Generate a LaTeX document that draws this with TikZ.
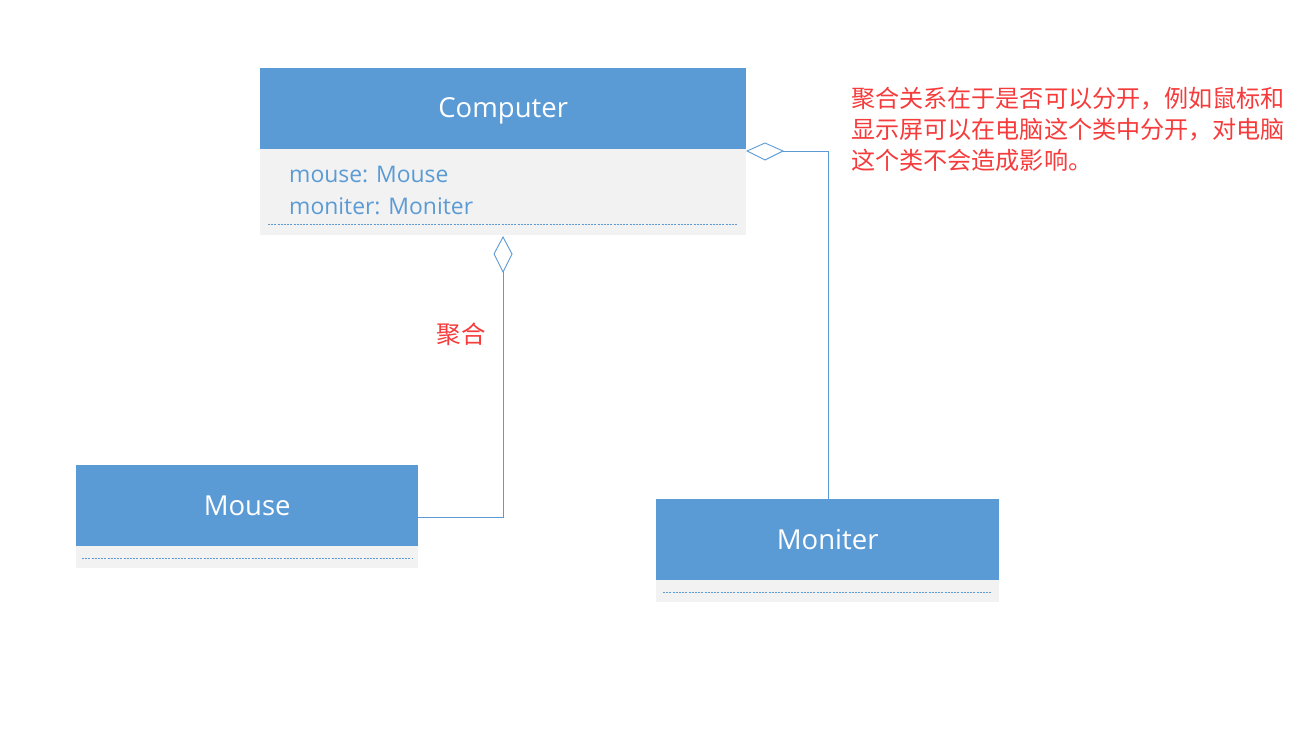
\documentclass[tikz,border=0pt]{standalone}
\usepackage{fontspec}
\setmainfont{Open Sans}
\newfontfamily\cjk{Noto Sans CJK SC}
\definecolor{hdr}{HTML}{5B9BD5}
\definecolor{bodyfill}{HTML}{F2F2F2}
\definecolor{note}{HTML}{F53B3B}
\tikzset{
  hdrbox/.style={fill=hdr, draw=none, minimum height=81pt, inner sep=0pt, text=white, font=\fontsize{27.5}{32}\selectfont},
  hdrtext/.style={text=white, font=\fontsize{27.5}{32}\selectfont, inner sep=0pt},
  bodybox/.style={fill=bodyfill, draw=none, inner sep=0pt},
  dashline/.style={draw=hdr, dash pattern=on 2pt off 1.2pt, line width=0.6pt},
  conn/.style={draw=hdr, line width=0.9pt},
  diam/.style={draw=hdr, fill=white, line width=0.9pt},
  attr/.style={text=hdr, font=\fontsize{22.9}{27}\selectfont, anchor=west, inner sep=0pt},
}
\begin{document}
\begin{tikzpicture}[x=1pt,y=-1pt]
\useasboundingbox (0,0) rectangle (1301,743);
% Computer
\node[hdrbox, minimum width=486pt, anchor=north west] (comph) at (260,68) {};
\node[hdrtext] (ctext) at ([yshift=-2pt]comph.center) {Computer};
\node[bodybox, minimum width=486pt, minimum height=86pt, anchor=north west] (compb) at (260,149) {};
\node[attr] (a1) at (289,174) {mouse: Mouse};
\node[attr] (a2) at (289,206) {moniter: Moniter};
\coordinate (cdl) at (268,224);
\coordinate (cdr) at (738,224);
\draw[dashline] (cdl) -- (cdr);
% Mouse
\node[hdrbox, minimum width=342pt, anchor=north west] (mouseh) at (76,465) {Mouse};
\node[bodybox, minimum width=342pt, minimum height=22pt, anchor=north west] (mouseb) at (76,546) {};
\coordinate (mdl) at (82,558);
\coordinate (mdr) at (412,558);
\draw[dashline] (mdl) -- (mdr);
% Moniter
\node[hdrbox, minimum width=343pt, anchor=north west] (monh) at (656,499) {Moniter};
\node[bodybox, minimum width=343pt, minimum height=22pt, anchor=north west] (monb) at (656,580) {};
\coordinate (ndl) at (663,592);
\coordinate (ndr) at (992,592);
\draw[dashline] (ndl) -- (ndr);
% connector to Mouse
\coordinate (d1t) at (503,237);
\coordinate (d1r) at (512,254);
\coordinate (d1b) at (503,272);
\coordinate (d1l) at (494,254);
\coordinate (m1) at (503,517);
\draw[conn] (d1b) -- (m1) -- (mouseh.east |- m1);
\draw[diam] (d1t) -- (d1r) -- (d1b) -- (d1l) -- cycle;
% connector to Moniter
\coordinate (d2l) at (747,151);
\coordinate (d2t) at (765,143);
\coordinate (d2r) at (783,151);
\coordinate (d2b) at (765,160);
\coordinate (m2) at (828,151);
\draw[conn] (d2r) -- (m2) -- (monh.north -| m2);
\draw[diam] (d2l) -- (d2t) -- (d2r) -- (d2b) -- cycle;
% labels
\node[text=note, font=\cjk\fontsize{24.5}{28}\selectfont, inner sep=0pt] (lbl) at (461,334) {聚合};
\node[text=note, font=\cjk\fontsize{24.1}{31}\selectfont, anchor=north west, inner sep=0pt, align=left] (nt) at (851,87) {聚合关系在于是否可以分开，例如鼠标和\\显示屏可以在电脑这个类中分开，对电脑\\这个类不会造成影响。};
\end{tikzpicture}
\end{document}
